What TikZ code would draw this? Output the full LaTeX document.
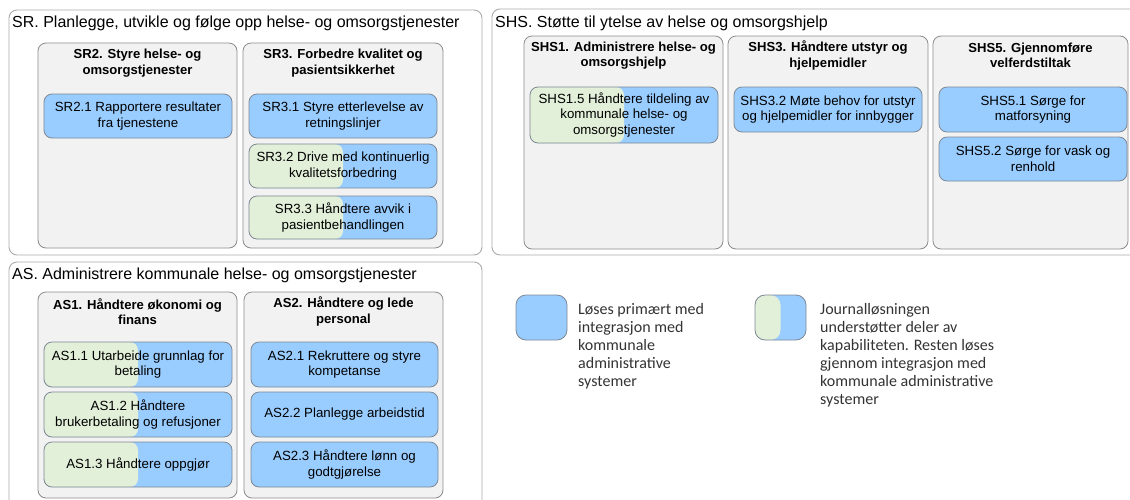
\documentclass[tikz,border=0pt]{standalone}
\usepackage{fontspec}
\setmainfont{Liberation Sans}
\newfontfamily\legfamily{Carlito}
\definecolor{outgray}{HTML}{ABABAB}
\definecolor{contgray}{HTML}{8C8C8C}
\definecolor{contfill}{HTML}{F2F2F2}
\definecolor{capedge}{HTML}{7D8894}
\definecolor{capblue}{HTML}{99CCFF}
\definecolor{capgreen}{HTML}{E2EFD9}
\definecolor{legtext}{HTML}{333333}
\newcommand\titlefont{\fontsize{16}{19}\selectfont}
\newcommand\headfont{\fontsize{13.1}{15.5}\selectfont\bfseries}
\newcommand\capfont{\fontsize{13.3}{15.6}\selectfont}
\newcommand\legfont{\legfamily\fontsize{16}{17.9}\selectfont}
\tikzset{
  outerbox/.style={draw=outgray, fill=white, rounded corners=8pt, line width=0.9pt},
  container/.style={draw=contgray, fill=contfill, rounded corners=8pt, line width=0.8pt},
  titletxt/.style={anchor=base west, inner sep=0pt, font=\titlefont},
  headtxt/.style={align=center, inner sep=0pt, font=\headfont},
  capbox/.style={draw=capedge, fill=capblue, rounded corners=8pt, line width=0.8pt,
    inner sep=0pt, outer sep=0pt, align=center, font=\capfont,
    minimum width=188pt, minimum height=45pt},
  capsplit/.style={capbox, path picture={\fill[capgreen]
    (path picture bounding box.south west) rectangle (path picture bounding box.north);}},
  legbox/.style={draw=capedge, fill=capblue, rounded corners=10pt, line width=0.8pt,
    inner sep=0pt, minimum width=51pt, minimum height=45pt},
  legsplit/.style={legbox, path picture={\fill[capgreen]
    (path picture bounding box.south west) rectangle (path picture bounding box.north);}},
  legtxt/.style={anchor=north west, align=left, inner sep=0pt, font=\legfont, text=legtext},
}
\begin{document}
\begin{tikzpicture}[x=1pt, y=-1pt]
\useasboundingbox (0,0) rectangle (1130,499);
\clip (0,0) rectangle (1130,499);

% ---------- SR ----------
\draw[outerbox] (9,10) rectangle (482,255);
\node[titletxt] (srt) at (12,27) {SR. Planlegge, utvikle og følge opp helse- og omsorgstjenester};
\draw[container] (38,43) rectangle (237,248);
\draw[container] (243,43) rectangle (443,248);
\node[headtxt] (sr2h) at (137.5,63) {SR2. Styre helse- og\\omsorgstjenester};
\node[headtxt] (sr3h) at (343,63) {SR3. Forbedre kvalitet og\\pasientsikkerhet};
\node[capbox, minimum height=44pt] (sr21) at (138,116) {SR2.1 Rapportere resultater\\fra tjenestene};
\node[capbox, minimum height=44pt] (sr31) at (343,116) {SR3.1 Styre etterlevelse av\\retningslinjer};
\node[capsplit, minimum height=44pt] (sr32) at (343,166) {SR3.2 Drive med kontinuerlig\\kvalitetsforbedring};
\node[capsplit, minimum height=43pt] (sr33) at (343,217.5) {SR3.3 Håndtere avvik i\\pasientbehandlingen};

% ---------- SHS ----------
\draw[outerbox] (492,9) rectangle (1140,255);
\node[titletxt] (shst) at (495,27) {SHS. Støtte til ytelse av helse og omsorgshjelp};
\draw[container] (524,36) rectangle (723,249);
\draw[container] (728,36) rectangle (928,249);
\draw[container] (933,36) rectangle (1128,249);
\node[headtxt] (shs1h) at (623.5,55.5) {SHS1. Administrere helse- og\\omsorgshjelp};
\node[headtxt] (shs3h) at (828,55.5) {SHS3. Håndtere utstyr og\\hjelpemidler};
\node[headtxt] (shs5h) at (1030.5,55.5) {SHS5. Gjennomføre\\velferdstiltak};
\node[capsplit, minimum height=56pt] (shs15) at (624,115) {SHS1.5 Håndtere tildeling av\\kommunale helse- og\\omsorgstjenester};
\node[capbox] (shs32) at (828,109.5) {SHS3.2 Møte behov for utstyr\\og hjelpemidler for innbygger};
\node[capbox] (shs51) at (1033,109.5) {SHS5.1 Sørge for\\matforsyning};
\node[capbox, minimum height=44pt] (shs52) at (1033,159) {SHS5.2 Sørge for vask og\\renhold};

% ---------- AS ----------
\draw[outerbox] (9,262) rectangle (482,520);
\node[titletxt] (ast) at (12,279) {AS. Administrere kommunale helse- og omsorgstjenester};
\draw[container] (38,292) rectangle (237,498);
\draw[container] (244,292) rectangle (443,498);
\node[headtxt] (as1h) at (137.5,311.5) {AS1. Håndtere økonomi og\\finans};
\node[headtxt] (as2h) at (343.5,311.5) {AS2. Håndtere og lede\\personal};
\node[capsplit] (as11) at (138,364.5) {AS1.1 Utarbeide grunnlag for\\betaling};
\node[capsplit] (as12) at (138,414.5) {AS1.2 Håndtere\\brukerbetaling og refusjoner};
\node[capsplit] (as13) at (138,464.5) {AS1.3 Håndtere oppgjør};
\node[capbox, minimum width=187pt] (as21) at (344.5,364.5) {AS2.1 Rekruttere og styre\\kompetanse};
\node[capbox, minimum width=187pt] (as22) at (344.5,414.5) {AS2.2 Planlegge arbeidstid};
\node[capbox, minimum width=187pt] (as23) at (344.5,464.5) {AS2.3 Håndtere lønn og\\godtgjørelse};

% ---------- legend ----------
\node[legbox] (lg1) at (541.5,317.5) {};
\node[legsplit] (lg2) at (780.5,317.5) {};
\node[legtxt] (lg1t) at (578,303.5) {Løses primært med\\integrasjon med\\kommunale\\administrative\\systemer};
\node[legtxt] (lg2t) at (820,303.5) {Journalløsningen\\understøtter deler av\\kapabiliteten. Resten løses\\gjennom integrasjon med\\kommunale administrative\\systemer};
\end{tikzpicture}
\end{document}
